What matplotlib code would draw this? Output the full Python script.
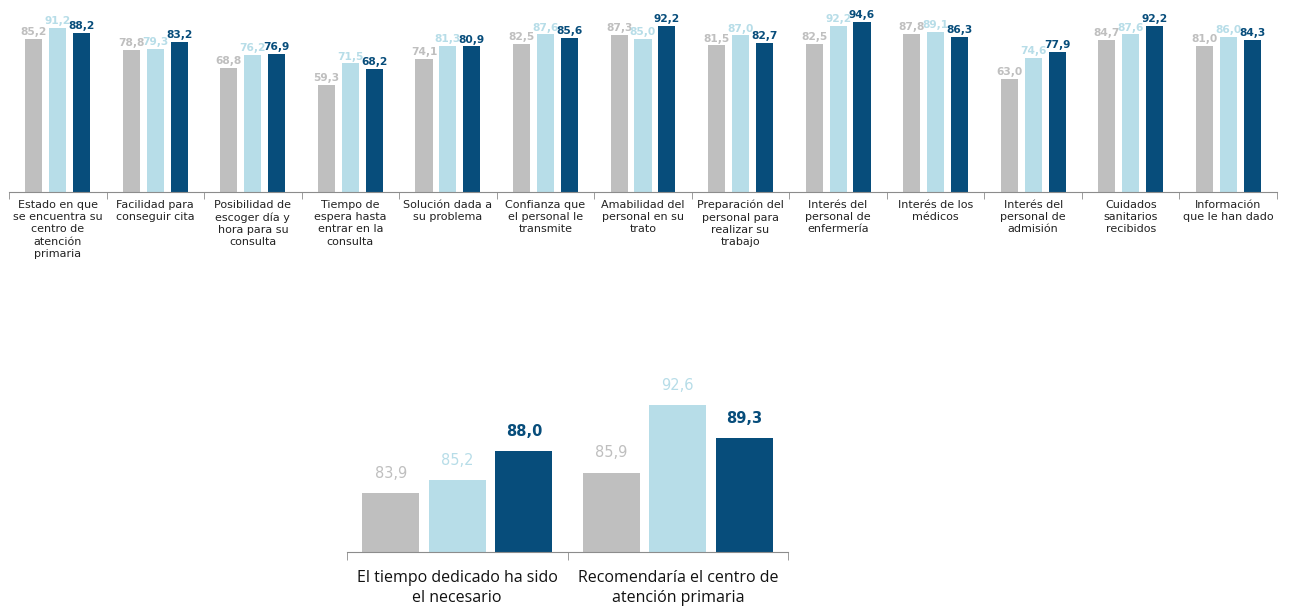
import matplotlib
matplotlib.use("Agg")
import matplotlib.pyplot as plt
import numpy as np

# ---------------- data ----------------
top_categories = [
    "Estado en que\nse encuentra su\ncentro de\natención\nprimaria",
    "Facilidad para\nconseguir cita",
    "Posibilidad de\nescoger día y\nhora para su\nconsulta",
    "Tiempo de\nespera hasta\nentrar en la\nconsulta",
    "Solución dada a\nsu problema",
    "Confianza que\nel personal le\ntransmite",
    "Amabilidad del\npersonal en su\ntrato",
    "Preparación del\npersonal para\nrealizar su\ntrabajo",
    "Interés del\npersonal de\nenfermería",
    "Interés de los\nmédicos",
    "Interés del\npersonal de\nadmisión",
    "Cuidados\nsanitarios\nrecibidos",
    "Información\nque le han dado",
]
top_grey = [85.2, 78.8, 68.8, 59.3, 74.1, 82.5, 87.3, 81.5, 82.5, 87.8, 63.0, 84.7, 81.0]
top_light = [91.2, 79.3, 76.2, 71.5, 81.3, 87.6, 85.0, 87.0, 92.2, 89.1, 74.6, 87.6, 86.0]
top_dark = [88.2, 83.2, 76.9, 68.2, 80.9, 85.6, 92.2, 82.7, 94.6, 86.3, 77.9, 92.2, 84.3]

bottom_categories = [
    "El tiempo dedicado ha sido\nel necesario",
    "Recomendaría el centro de\natención primaria",
]
bottom_grey = [83.9, 85.9]
bottom_light = [85.2, 92.6]
bottom_dark = [88.0, 89.3]

# ---------------- style ----------------
C_GREY = "#BFBFBF"
C_LIGHT = "#B7DDE8"
C_DARK = "#074D7B"
AXIS_C = "#8C8C8C"

def fmt(v):
    return f"{v:.1f}".replace(".", ",")

fig = plt.figure(figsize=(12.93, 6.12), dpi=100)

# ---------------- top chart ----------------
ax1 = fig.add_axes([9 / 1293, 1 - 192 / 612, 1268 / 1293, 180 / 612])
x = np.arange(len(top_categories))
w = 0.175
off = 0.245
series = [(top_grey, C_GREY), (top_light, C_LIGHT), (top_dark, C_DARK)]
for i, (vals, col) in enumerate(series):
    pos = x + (i - 1) * off
    ax1.bar(pos, vals, width=w, color=col, edgecolor="none")
    for p, v in zip(pos, vals):
        ax1.text(p, v + 1.0, fmt(v), ha="center", va="bottom", fontsize=7.7,
                 color=col, fontweight="bold")
ax1.set_xlim(-0.5, len(top_categories) - 0.5)
ax1.set_ylim(0, 100)
for s in ["top", "right", "left"]:
    ax1.spines[s].set_visible(False)
ax1.spines["bottom"].set_color(AXIS_C)
ax1.set_yticks([])
ax1.set_xticks(x)
ax1.set_xticklabels(top_categories, fontsize=8, color="#222222", linespacing=1.3)
ax1.tick_params(axis="x", which="major", length=0, pad=5.5)
ax1.set_xticks(np.arange(-0.5, len(top_categories), 1.0), minor=True)
ax1.tick_params(axis="x", which="minor", length=5, color=AXIS_C, direction="out")

# ---------------- bottom chart ----------------
ax2 = fig.add_axes([347 / 1293, 1 - 552 / 612, 441 / 1293, 171 / 612])
xb = np.arange(len(bottom_categories))
wb = 0.258
offb = 0.302
series_b = [(bottom_grey, C_GREY, "normal"), (bottom_light, C_LIGHT, "normal"), (bottom_dark, C_DARK, "bold")]
for i, (vals, col, wt) in enumerate(series_b):
    pos = xb + (i - 1) * offb
    ax2.bar(pos, vals, width=wb, color=col, edgecolor="none")
    for p, v in zip(pos, vals):
        ax2.text(p, v + 1.2, fmt(v), ha="center", va="bottom", fontsize=10.5,
                 color=col, fontweight=wt)
ax2.set_xlim(-0.5, len(bottom_categories) - 0.5)
ax2.set_ylim(78, 95)
for s in ["top", "right", "left"]:
    ax2.spines[s].set_visible(False)
ax2.spines["bottom"].set_color(AXIS_C)
ax2.set_yticks([])
ax2.set_xticks(xb)
ax2.set_xticklabels(bottom_categories, fontsize=11.5, color="#111111",
                    family=["Open Sans", "DejaVu Sans"], linespacing=1.3)
ax2.tick_params(axis="x", which="major", length=0, pad=13)
ax2.set_xticks(np.arange(-0.5, len(bottom_categories), 1.0), minor=True)
ax2.tick_params(axis="x", which="minor", length=6, color=AXIS_C, direction="out")

fig.savefig("out.png", dpi=100, facecolor="white")
